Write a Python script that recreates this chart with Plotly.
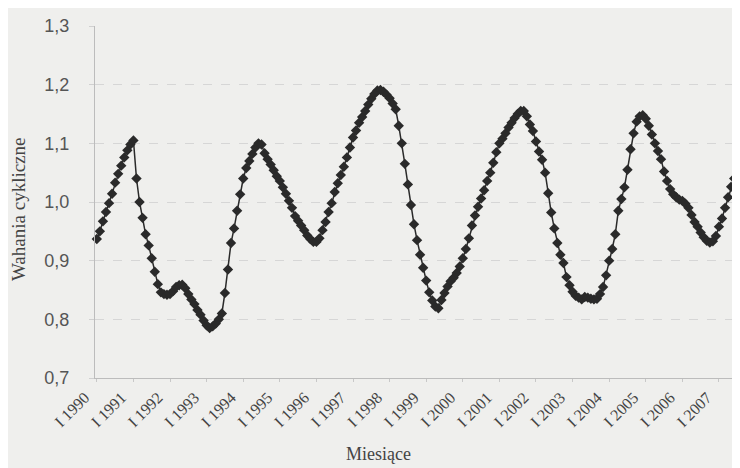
import plotly.graph_objects as go

# Monthly cyclical fluctuation index, from January 1990 (month 0)
values = [
    0.937, 0.950, 0.967, 0.983, 0.998, 1.014, 1.033, 1.048, 1.062, 1.076, 1.088, 1.098, 1.105,
    1.040, 1.000, 0.973, 0.945, 0.926, 0.904, 0.881, 0.860, 0.846, 0.843, 0.842,
    0.843, 0.848, 0.855, 0.858, 0.859, 0.853, 0.843, 0.834, 0.826, 0.816, 0.808, 0.798,
    0.790, 0.785, 0.788, 0.793, 0.800, 0.810,
    0.845, 0.885, 0.930, 0.955, 0.985, 1.013, 1.040, 1.058, 1.070, 1.082, 1.093, 1.100, 1.098,
    1.083, 1.073, 1.064, 1.054, 1.044, 1.036, 1.025, 1.014, 1.002, 0.990, 0.976,
    0.968, 0.960, 0.952, 0.943, 0.937, 0.932, 0.932, 0.938, 0.952, 0.966, 0.983, 0.998,
    1.017, 1.032, 1.046, 1.060, 1.076, 1.093, 1.110, 1.122, 1.135, 1.145, 1.155, 1.166,
    1.176, 1.184, 1.190, 1.191, 1.188, 1.183, 1.177, 1.168, 1.158,
    1.130, 1.100, 1.065, 1.030, 0.995, 0.962, 0.935, 0.910, 0.888, 0.866, 0.846, 0.832, 0.822,
    0.819, 0.833, 0.845, 0.856, 0.865, 0.871, 0.879, 0.890, 0.904, 0.920, 0.938, 0.960,
    0.977, 0.992, 1.006, 1.020, 1.036, 1.050, 1.067, 1.085, 1.100, 1.108, 1.117, 1.127,
    1.135, 1.143, 1.150, 1.155, 1.155,
    1.146, 1.132, 1.121, 1.103, 1.086, 1.072, 1.050, 1.015, 0.982, 0.955, 0.930, 0.910,
    0.896, 0.872, 0.858, 0.847, 0.840, 0.837, 0.834, 0.838, 0.837, 0.835, 0.834, 0.835,
    0.843, 0.855, 0.875, 0.900, 0.920, 0.945,
    0.985, 1.005, 1.025, 1.055, 1.090, 1.117, 1.137, 1.146, 1.148, 1.142, 1.130, 1.115,
    1.100, 1.087, 1.073, 1.052, 1.036, 1.022, 1.013, 1.008, 1.004, 1.002, 0.997, 0.990,
    0.978, 0.966, 0.958, 0.948, 0.940, 0.934, 0.931, 0.933, 0.942, 0.958, 0.972, 0.990,
    1.008, 1.026, 1.040, 1.052, 1.063, 1.072,
]
months = list(range(len(values)))

tick_labels = ["I 1990", "I 1991", "I 1992", "I 1993", "I 1994", "I 1995", "I 1996",
               "I 1997", "I 1998", "I 1999", "I 2000", "I 2001", "I 2002", "I 2003",
               "I 2004", "I 2005", "I 2006", "I 2007"]
tick_pos = [12 * i for i in range(len(tick_labels))]

y_ticks = [0.7, 0.8, 0.9, 1.0, 1.1, 1.2, 1.3]
y_tick_text = ["0,7", "0,8", "0,9", "1,0", "1,1", "1,2", "1,3"]

BG = "#efefed"
INK = "#2a2a2a"

# page body has an 8px margin: plot area should land at x 95..740, y 20..378 on screen
PLOT_W = 645
PLOT_H = 358

fig = go.Figure()
fig.add_trace(go.Scatter(
    x=months, y=values, mode="lines+markers",
    line=dict(color=INK, width=1.5),
    marker=dict(symbol="diamond", size=8, color=INK),
    cliponaxis=False, hoverinfo="skip", showlegend=False,
))

fig.update_layout(
    width=740, height=468,
    margin=dict(l=87, r=8, t=12, b=98),
    paper_bgcolor=BG, plot_bgcolor=BG,
    xaxis=dict(
        range=[-0.6, 210.9],
        tickmode="array", tickvals=tick_pos, ticktext=tick_labels,
        tickangle=-45, ticklabelshift=-12,
        tickfont=dict(family="Liberation Serif", size=16, color="#444444"),
        showgrid=False, zeroline=False,
        showline=True, linecolor="#bcbcbc", linewidth=1,
        ticks="outside", ticklen=3, tickcolor="#c8c8c8",
    ),
    yaxis=dict(
        range=[0.7, 1.3],
        tickmode="array", tickvals=y_ticks, ticktext=y_tick_text,
        tickfont=dict(family="Liberation Sans", size=18, color="#555555"),
        showgrid=True, gridcolor="#d6d6d6", griddash="dash", gridwidth=1,
        zeroline=False,
        showline=True, linecolor="#bcbcbc", linewidth=1,
        ticks="outside", ticklen=5, tickcolor="#d0d0d0",
        ticklabelstandoff=16,
    ),
    annotations=[
        dict(text="Wahania cykliczne", textangle=-90, showarrow=False,
             xref="paper", yref="paper", x=-77 / PLOT_W, y=0.48,
             xanchor="center", yanchor="middle",
             font=dict(family="Liberation Serif", size=19, color="#444444")),
        dict(text="Miesiące", showarrow=False,
             xref="paper", yref="paper", x=(378 - 95) / PLOT_W, y=-(455 - 378) / PLOT_H,
             xanchor="center", yanchor="middle",
             font=dict(family="Liberation Serif", size=18, color="#444444")),
    ],
)

fig.write_html("out.html")
